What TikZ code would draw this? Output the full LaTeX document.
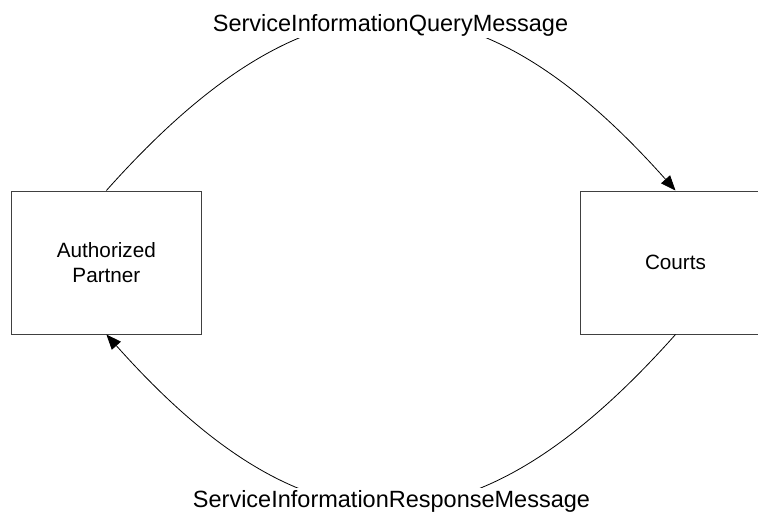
\documentclass[tikz,border=0pt]{standalone}
\usepackage{fontspec}
\setmainfont{Liberation Sans}
\usetikzlibrary{arrows.meta}
\begin{document}
\begin{tikzpicture}[x=1pt,y=-1pt,
  actor/.style={draw=black!75,line width=1pt,fill=white,minimum width=189.3pt,minimum height=143pt,inner sep=0pt,align=center,font=\fontsize{20.7}{25}\selectfont},
  flow/.style={draw=black,line width=0.8pt,-{Triangle[length=15pt,width=12pt]}},
  msg/.style={fill=white,inner sep=2.5pt,font=\fontsize{23.5}{28}\selectfont}]
\useasboundingbox (0,0) rectangle (758,515);
\clip (0,0) rectangle (758,515);
\node[actor] (ap) at (106.4,262.5) {Authorized\\Partner};
\node[actor] (cr) at (675.5,262.5) {Courts};
\draw[flow] (ap.north) .. controls +(203,-228) and +(-203,-228) .. (cr.north);
\draw[flow] (cr.south) .. controls +(-203,228) and +(203,228) .. (ap.south);
\node[msg,anchor=base] (q) at (390.5,31) {ServiceInformationQueryMessage};
\node[msg,anchor=base] (r) at (391.5,507.5) {ServiceInformationResponseMessage};
\end{tikzpicture}
\end{document}
